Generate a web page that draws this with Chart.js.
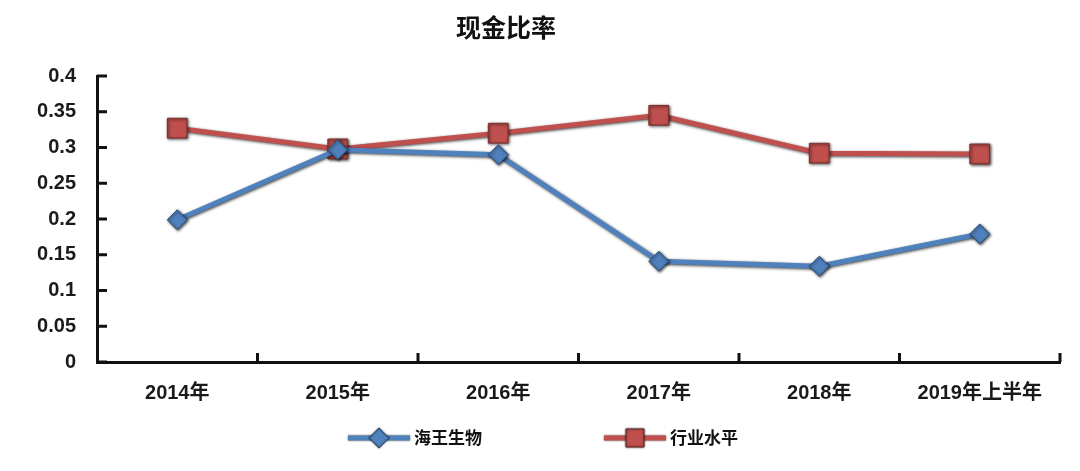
<!DOCTYPE html>
<html>
<head>
<meta charset="utf-8">
<script src="https://cdn.jsdelivr.net/npm/chart.js@4/dist/chart.umd.min.js"></script>
<style>
  html, body { margin: 0; padding: 0; background: #fff; }
  #wrap { width: 1080px; height: 471px; }
</style>
</head>
<body>
<div id="wrap"><canvas id="cashRatioChart"></canvas></div>
<script>
const years = ['2014年', '2015年', '2016年', '2017年', '2018年', '2019年上半年'];
const haiwangValues = [0.199, 0.297, 0.290, 0.141, 0.134, 0.179];
const industryValues = [0.327, 0.298, 0.320, 0.345, 0.292, 0.291];
const yTicks = [0, 0.05, 0.1, 0.15, 0.2, 0.25, 0.3, 0.35, 0.4];
const seriesNames = ['海王生物', '行业水平'];
const chartTitle = '现金比率';

const FONT = '"Liberation Sans", "Noto Sans CJK SC", sans-serif';
const BLUE = '#4F81BD';
const RED = '#C0504D';
const BLUE_EDGE = '#2c4d75';
const RED_EDGE = '#7a2f2d';

function drawMarker(g, x, y, style, color, edge) {
    g.fillStyle = color;
    g.strokeStyle = edge;
    g.lineWidth = 1;
    g.beginPath();
    if (style === 'diamond') {
        g.moveTo(x, y - 10); g.lineTo(x + 10, y); g.lineTo(x, y + 10); g.lineTo(x - 10, y);
        g.closePath();
    } else {
        g.rect(x - 9, y - 9, 18, 18);
    }
    g.fill();
    g.stroke();
}

// title, legend and inward axis ticks
const decorations = {
    id: 'decorations',
    beforeDatasetsDraw(chart) {
        const { ctx, chartArea, scales } = chart;
        ctx.save();
        ctx.strokeStyle = '#111';
        ctx.lineWidth = 3;
        ctx.beginPath();
        yTicks.forEach(v => {
            const y = scales.y.getPixelForValue(v);
            ctx.moveTo(chartArea.left, y);
            ctx.lineTo(chartArea.left + 10, y);
        });
        const step = (chartArea.right - chartArea.left) / years.length;
        for (let i = 1; i <= years.length; i++) {
            const x = chartArea.left + i * step;
            ctx.moveTo(x, chartArea.bottom);
            ctx.lineTo(x, chartArea.bottom - 9);
        }
        ctx.stroke();
        ctx.restore();
    },
    afterDraw(chart) {
        const ctx = chart.ctx;
        ctx.save();
        ctx.fillStyle = '#111';
        ctx.textAlign = 'center';
        ctx.textBaseline = 'middle';
        ctx.font = 'bold 25px ' + FONT;
        ctx.fillText(chartTitle, 506, 30);

        const items = [
            { x: 348, color: BLUE, edge: BLUE_EDGE, style: 'diamond' },
            { x: 604, color: RED, edge: RED_EDGE, style: 'square' }
        ];
        const ly = 438;
        items.forEach((it, i) => {
            ctx.save();
            ctx.shadowColor = 'rgba(0,0,0,0.7)';
            ctx.shadowBlur = 2;
            ctx.strokeStyle = it.color;
            ctx.lineWidth = 5;
            ctx.beginPath();
            ctx.moveTo(it.x, ly);
            ctx.lineTo(it.x + 62, ly);
            ctx.stroke();
            drawMarker(ctx, it.x + 31, ly, it.style, it.color, it.edge);
            ctx.restore();
            ctx.fillStyle = '#111';
            ctx.textAlign = 'left';
            ctx.font = 'bold 17px ' + FONT;
            ctx.fillText(seriesNames[i], it.x + 66, ly + 1);
        });
        ctx.restore();
    }
};

const lineShadow = {
    id: 'lineShadow',
    beforeDatasetDraw(chart) {
        const ctx = chart.ctx;
        ctx.save();
        ctx.shadowColor = 'rgba(0,0,0,0.75)';
        ctx.shadowBlur = 3;
        ctx.shadowOffsetX = 1;
        ctx.shadowOffsetY = 1;
    },
    afterDatasetDraw(chart) {
        chart.ctx.restore();
    }
};

new Chart(document.getElementById('cashRatioChart'), {
    type: 'line',
    data: {
        labels: years,
        datasets: [{
            label: seriesNames[0],
            data: haiwangValues,
            borderColor: BLUE,
            backgroundColor: BLUE,
            borderWidth: 5,
            pointStyle: 'rectRot',
            pointRadius: 10,
            pointBorderColor: BLUE_EDGE,
            pointBorderWidth: 1,
            tension: 0
        }, {
            label: seriesNames[1],
            data: industryValues,
            borderColor: RED,
            backgroundColor: RED,
            borderWidth: 5,
            pointStyle: 'rect',
            pointRadius: 14,
            pointBorderColor: RED_EDGE,
            pointBorderWidth: 1,
            tension: 0
        }]
    },
    options: {
        responsive: true,
        maintainAspectRatio: false,
        animation: false,
        layout: { padding: { left: 0, right: 20, top: 76, bottom: 0 } },
        plugins: {
            legend: { display: false },
            title: { display: false },
            tooltip: { enabled: false }
        },
        scales: {
            x: {
                offset: true,
                afterFit(scale) { scale.height = 109; },
                grid: { display: false, offset: true },
                border: { color: '#111', width: 3 },
                ticks: {
                    color: '#1a1a1a',
                    padding: 11,
                    maxRotation: 0,
                    font: { family: FONT, size: 20, weight: 'bold' }
                }
            },
            y: {
                min: 0,
                max: 0.4,
                afterFit(scale) { scale.width = 97; },
                afterBuildTicks(scale) { scale.ticks = yTicks.map(v => ({ value: v })); },
                grid: { display: false },
                border: { color: '#111', width: 3 },
                ticks: {
                    autoSkip: false,
                    color: '#1a1a1a',
                    padding: 13,
                    font: { family: FONT, size: 20, weight: 'bold' },
                    callback: v => String(Math.round(v * 100) / 100)
                }
            }
        }
    },
    plugins: [decorations, lineShadow]
});
</script>
</body>
</html>
